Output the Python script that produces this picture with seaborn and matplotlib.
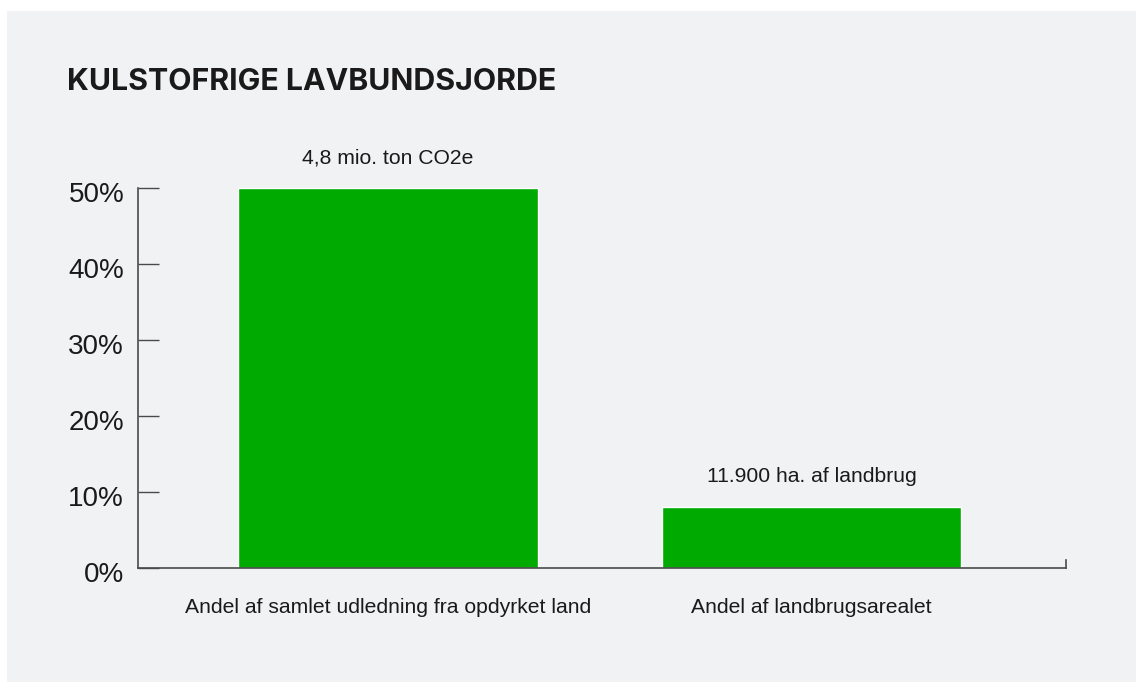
import matplotlib
matplotlib.use("Agg")
import matplotlib.pyplot as plt
import matplotlib.transforms as mtransforms
from matplotlib.patches import Rectangle
import seaborn as sns
import pandas as pd

categories = ["Andel af samlet udledning fra opdyrket land", "Andel af landbrugsarealet"]
values = [50, 8]
bar_labels = ["4,8 mio. ton CO2e", "11.900 ha. af landbrug"]
yticks = [0, 10, 20, 30, 40, 50]
ytick_labels = ["0%", "10%", "20%", "30%", "40%", "50%"]
title = "KULSTOFRIGE LAVBUNDSJORDE"

BG = "#f1f2f4"
GREEN = "#00aa00"
AXC = "#4a4a4a"
TXT = "#1a1a1a"

sns.set_theme(style="white")
plt.rcParams["font.family"] = ["Liberation Sans", "DejaVu Sans"]

W, H = 1136, 682
fig = plt.figure(figsize=(W / 100, H / 100), dpi=100, facecolor="white")
fig.patches.append(Rectangle((7 / W, 0), 1 - 7 / W, 1 - 11 / H, transform=fig.transFigure,
                             facecolor=BG, edgecolor="none", zorder=-10))

ax = fig.add_axes([138 / W, (H - 568) / H, (1066 - 138) / W, (568 - 188) / H])
ax.set_facecolor(BG)
ax.patch.set_alpha(0)

df = pd.DataFrame({"cat": categories, "val": values})
sns.barplot(data=df, x="cat", y="val", hue="cat", palette=[GREEN, GREEN], legend=False,
            width=0.706, saturation=1, ax=ax)

ax.set_xlim(-0.59, 1.6)
ax.set_ylim(0, 50)
ax.set_xlabel("")
ax.set_ylabel("")
ax.set_yticks(yticks)
ax.set_yticklabels(ytick_labels)

ax.spines["top"].set_visible(False)
for sp in ["left", "bottom", "right"]:
    ax.spines[sp].set_color(AXC)
    ax.spines[sp].set_linewidth(1.2)
ax.spines["right"].set_bounds(0, 1.1)

ax.tick_params(axis="y", direction="in", length=15, width=1.0, color=AXC,
               labelsize=20, labelcolor=TXT, pad=10, left=True)
ax.tick_params(axis="x", length=0, labelsize=15.2, labelcolor=TXT, pad=21.5)

shift = mtransforms.ScaledTranslation(0, -4 / 100, fig.dpi_scale_trans)
for lbl in ax.get_yticklabels():
    lbl.set_transform(lbl.get_transform() + shift)

for i, cont in enumerate(ax.containers):
    ax.bar_label(cont, labels=[bar_labels[i]], padding=15, fontsize=15.2, color=TXT)

fig.text(67 / W, 1 - 82 / H, title, fontsize=21.8, fontweight="bold", color=TXT,
         va="center", ha="left", family=["Inter", "DejaVu Sans"])

fig.savefig("out.png", dpi=100, facecolor="white")
